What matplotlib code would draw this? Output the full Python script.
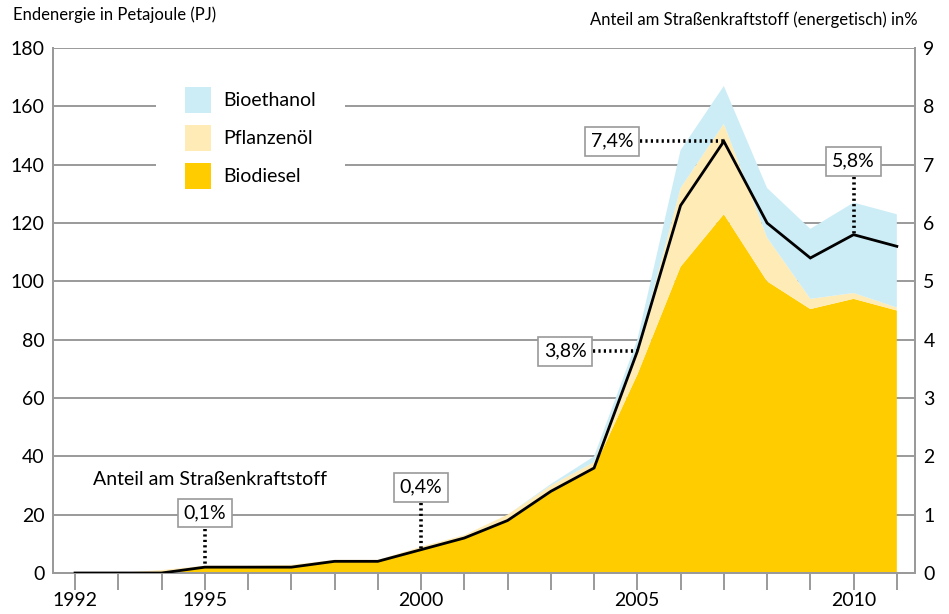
import numpy as np
import matplotlib
matplotlib.use('Agg')
import matplotlib.pyplot as plt

plt.rcParams['font.family'] = ['Lato', 'DejaVu Sans']

# ----- Data -----
years = np.arange(1992, 2012)
biodiesel = [0, 0, 0.5, 2, 2, 2, 4, 4, 8, 12, 18, 28, 36, 68, 105, 123, 100, 90.5, 94, 90]
pflanzenoel = [0, 0, 0.5, 0.5, 0.5, 0.8, 0.5, 0.5, 1, 1, 2, 2, 2, 8, 27, 31, 15, 3.5, 2, 1]
bioethanol = [0, 0, 0, 0, 0, 0, 0, 0, 0, 0, 0, 0.5, 2, 4, 13, 13, 17, 24, 31, 32]
anteil = [0, 0, 0, 0.1, 0.1, 0.1, 0.2, 0.2, 0.4, 0.6, 0.9, 1.4, 1.8, 3.8, 6.3, 7.4, 6.0, 5.4, 5.8, 5.6]
series_names = ['Biodiesel', 'Pflanzenöl', 'Bioethanol']
series_colors = ['#FFCC00', '#FFEBB5', '#CDEDF6']

# labelled shares: (year, value, label text, box position x, box position y)
share_labels = [
    (1995, 0.1, '0,1%', 1995.0, 1.03),
    (2000, 0.4, '0,4%', 2000.0, 1.47),
    (2005, 3.8, '3,8%', 2003.33, 3.8),
    (2007, 7.4, '7,4%', 2004.42, 7.4),
    (2010, 5.8, '5,8%', 2010.0, 7.06),
]

grid_color = '#9a9a9a'

# ------ Plot ------
fig = plt.figure(figsize=(9.49, 6.14), dpi=100)
ax = fig.add_axes([53 / 949, 1 - 573 / 614, (915 - 53) / 949, (573 - 48) / 614])
ax2 = ax.twinx()

ax.set_xlim(1991.49, 2011.42)
ax.set_ylim(0, 180)
ax2.set_ylim(0, 9)

# grid lines behind the areas
for v in range(20, 181, 20):
    ax.axhline(v, color=grid_color, lw=1.4, zorder=0)

polys = ax.stackplot(years, biodiesel, pflanzenoel, bioethanol, colors=series_colors,
                     labels=series_names, linewidth=0, zorder=1)

ax2.plot(years, anteil, color='black', lw=2.0, zorder=5, solid_joinstyle='miter')

# spines and ticks
for a in (ax, ax2):
    a.spines['top'].set_visible(False)
    for s in ('left', 'right', 'bottom'):
        a.spines[s].set_color(grid_color)
        a.spines[s].set_linewidth(1.4)

ax.set_yticks(range(0, 181, 20))
ax.tick_params(axis='y', length=0, labelsize=14, pad=6)
ax2.set_yticks(range(0, 10))
ax2.tick_params(axis='y', length=0, labelsize=14, pad=6)
ax.set_xticks(years)
ax.set_xticklabels([str(y) if y in (1992, 1995, 2000, 2005, 2010) else '' for y in years])
ax.tick_params(axis='x', direction='out', length=12, width=1.4, color=grid_color,
               labelsize=14, pad=2)

# axis titles
fig.text(13 / 949, 1 - 15 / 614, 'Endenergie in Petajoule (PJ)', fontsize=12, va='center', ha='left')
fig.text(918 / 949, 1 - 20 / 614, 'Anteil am Straßenkraftstoff (energetisch) in%', fontsize=12,
         va='center', ha='right')

# legend (top item first), drawn on the twin axes so it masks the grid lines
handles, labels = ax.get_legend_handles_labels()
leg = ax2.legend(handles[::-1], labels[::-1], loc='upper left', bbox_to_anchor=(0.1195, 0.981),
                 frameon=True, facecolor='white', edgecolor='none', framealpha=1,
                 fontsize=14, handlelength=1.34, handleheight=1.68, labelspacing=0.61,
                 handletextpad=0.61, borderpad=1.49, borderaxespad=0, fancybox=False)
leg.get_frame().set_linewidth(0)

# share annotations
box = dict(boxstyle='square,pad=0.3', facecolor='white', edgecolor=grid_color, lw=1.2)
for yr, val, txt, bx, by in share_labels:
    ax2.text(bx, by, txt, fontsize=14, ha='center', va='center', bbox=box, zorder=6)
    if bx == yr:
        top = by - 0.27
        ax2.plot([yr, yr], [top, val], color='black', lw=2.6, ls=(0, (0.6, 0.9)), zorder=5)
    else:
        left = bx + 0.65
        ax2.plot([left, yr], [val, val], color='black', lw=2.6, ls=(0, (0.6, 0.9)), zorder=5)

ax2.text(1992.42, 1.6, 'Anteil am Straßenkraftstoff', fontsize=14, ha='left', va='center')

fig.savefig('out.png', dpi=100)
